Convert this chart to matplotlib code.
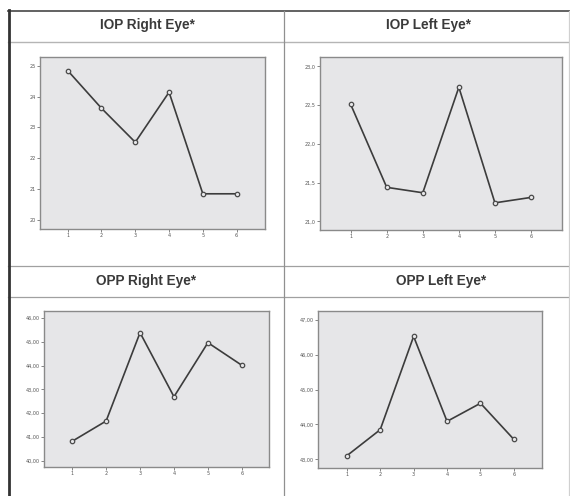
import numpy as np
import matplotlib
matplotlib.use('Agg')
import matplotlib.pyplot as plt
from matplotlib.lines import Line2D

W, H = 570, 496

# data
visits = [1, 2, 3, 4, 5, 6]
iop_right = [24.84, 23.62, 22.52, 24.14, 20.85, 20.85]
iop_left = [22.51, 21.44, 21.37, 22.73, 21.24, 21.31]
opp_right = [40.82, 41.67, 45.38, 42.69, 44.96, 44.01]
opp_left = [43.10, 43.85, 46.53, 44.09, 44.61, 43.57]

titles = ["IOP Right Eye*", "IOP Left Eye*", "OPP Right Eye*", "OPP Left Eye*"]
series = [iop_right, iop_left, opp_right, opp_left]
yticks = [[20, 21, 22, 23, 24, 25],
          [21.0, 21.5, 22.0, 22.5, 23.0],
          [40, 41, 42, 43, 44, 45, 46],
          [43, 44, 45, 46, 47]]
ylims = [(19.71, 25.28), (20.89, 23.12), (39.74, 46.29), (42.75, 47.26)]
xlims = [(0.18, 6.84), (0.15, 6.86), (0.17, 6.80), (0.14, 6.84)]
fmts = ["{:.0f}", "{:.1f}", "{:.2f}", "{:.2f}"]

# axes boxes in pixels: left, top, right, bottom
boxes = [(40, 57, 265, 229), (320, 57, 562, 230),
         (44, 311, 269, 467), (318, 311, 542, 468)]
title_pos = [(147, 25), (429, 25), (146, 281), (441, 281)]

fig = plt.figure(figsize=(W / 100, H / 100), dpi=100)
fig.patch.set_facecolor('white')

def fx(x):
    return x / W

def fy(y):
    return 1 - y / H

# table lines
def hline(y, x0, x1, c, lw):
    fig.add_artist(Line2D([fx(x0), fx(x1)], [fy(y), fy(y)], color=c, lw=lw))

def vline(x, y0, y1, c, lw):
    fig.add_artist(Line2D([fx(x), fx(x)], [fy(y0), fy(y1)], color=c, lw=lw))

hline(11, 8, 570, '#555555', 1.3)
hline(42, 8, 570, '#b5b5b5', 1.0)
hline(266, 8, 570, '#a0a0a0', 0.9)
hline(297, 8, 570, '#a0a0a0', 0.9)
vline(8.5, 10, 496, '#333333', 2.0)
vline(284, 11, 496, '#909090', 0.9)
vline(569, 11, 496, '#d0d0d0', 0.9)

for i in range(4):
    l, t, r, b = boxes[i]
    ax = fig.add_axes([fx(l), fy(b), (r - l) / W, (b - t) / H])
    ax.set_facecolor('#e6e6e8')
    for s in ax.spines.values():
        s.set_color('#8a8a8a')
        s.set_linewidth(1.0)
    ax.plot(visits, series[i], color='#3c3c3c', lw=1.2,
            marker='o', ms=3.2, mfc='#e6e6e8', mec='#4a4a4a', mew=0.9)
    ax.set_xlim(*xlims[i])
    ax.set_ylim(*ylims[i])
    ax.set_xticks(visits)
    ax.set_xticklabels([str(v) for v in visits])
    ax.set_yticks(yticks[i])
    ax.set_yticklabels([fmts[i].format(v).replace('.', ',') for v in yticks[i]])
    ax.tick_params(labelsize=3.5, colors='#555555', length=2, width=0.5, pad=1)
    tx, ty = title_pos[i]
    fig.text(fx(tx), fy(ty), titles[i], ha='center', va='center',
             fontsize=9.8, fontweight='bold', color='#3a3a3a',
             family='Liberation Sans')

fig.savefig('out.png', dpi=100)
